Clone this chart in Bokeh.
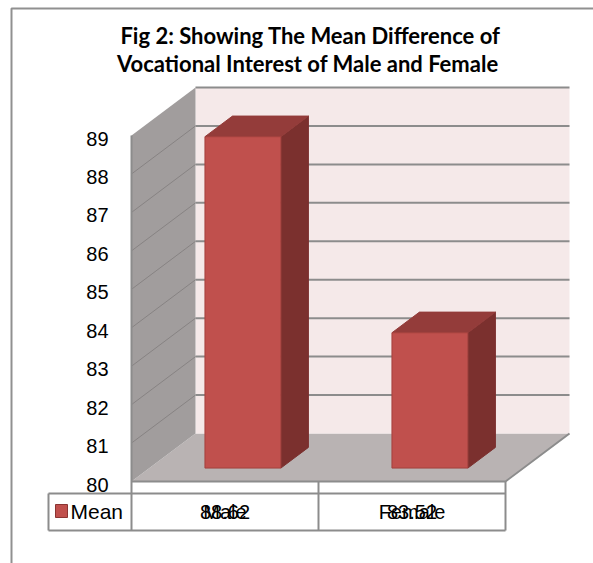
from bokeh.plotting import figure
from bokeh.models import Range1d
from bokeh.core.properties import value
from bokeh.embed import file_html
from bokeh.resources import INLINE

# ---------------- data ----------------
categories = ["Male", "Female"]
means = [88.62, 83.52]
series_name = "Mean"
y_ticks = [80, 81, 82, 83, 84, 85, 86, 87, 88, 89]
title_lines = ["Fig 2: Showing The Mean Difference of",
               "Vocational Interest  of Male and Female"]

# ---------------- layout (pixels / styling) ----------------
W, H = 593, 563
FRONT_X0 = 131      # px of left front edge of the plot box
CAT_PX = 187        # px per category on the front plane
BASE_PX = 481       # px (from top) of the axis minimum on the front plane
UNIT_PX = 38.44     # px per value unit
DEPTH_DX_PX = 64    # 3-D depth offset
DEPTH_DY_PX = 48
BAR_W = 0.406       # bar width in category units
BAR_F0 = 0.28       # depth fraction where bar front face sits
BAR_FD = 0.43       # bar depth fraction

GRAY = "#8c8c8c"
RED_FRONT = "#c0504d"
RED_TOP = "#943c3a"
RED_SIDE = "#7b302e"
RED_EDGE = "#a3403d"

YMIN, YMAX = y_ticks[0], y_ticks[-1]


def X(px):
    return (px - FRONT_X0) / CAT_PX


def Y(py):
    return YMIN + (BASE_PX - py) / UNIT_PX


DX = DEPTH_DX_PX / CAT_PX
DY = DEPTH_DY_PX / UNIT_PX
n = len(categories)

p = figure(width=W, height=H,
           x_range=Range1d(X(0), X(W)), y_range=Range1d(Y(H), Y(0)),
           output_backend="svg", toolbar_location=None,
           x_axis_type=None, y_axis_type=None, min_border=0,
           outline_line_color=None, background_fill_color="white",
           border_fill_color="white")

# outer chart border (extends past right / bottom edge)
p.line([X(11), X(11), X(W + 20)], [Y(H + 20), Y(8), Y(8)], line_color="#909090", line_width=2)

# floor
p.patch([0, n, n + DX, DX], [YMIN, YMIN, YMIN + DY, YMIN + DY],
        fill_color="#b9b3b3", line_color=None)
# back wall
p.quad(left=[DX], right=[n + DX], bottom=[YMIN + DY], top=[YMAX + DY],
       fill_color="#f5e9e9", line_color=None)
# side wall
p.patch([0, 0, DX, DX], [YMIN, YMAX, YMAX + DY, YMIN + DY],
        fill_color="#a19d9d", line_color=None)

# back wall gridlines
p.multi_line([[DX, n + DX] for t in y_ticks[1:]],
             [[t + DY, t + DY] for t in y_ticks[1:]],
             line_color=GRAY, line_width=2)
# side wall gridlines
p.multi_line([[0, DX] for t in y_ticks[1:-1]],
             [[t, t + DY] for t in y_ticks[1:-1]],
             line_color="#878383", line_width=1)

# floor edges
p.line([0, n, n + DX], [YMIN, YMIN, YMIN + DY], line_color=GRAY, line_width=2)

# bars
tx, ty, sx, sy = [], [], [], []
left, right, bottom, top = [], [], [], []
bx, by = BAR_FD * DX, BAR_FD * DY
for i, v in enumerate(means):
    cx = i + 0.5
    x0 = cx - BAR_W / 2 + BAR_F0 * DX
    x1 = cx + BAR_W / 2 + BAR_F0 * DX
    yb = YMIN + BAR_F0 * DY
    yt = v + BAR_F0 * DY
    left.append(x0); right.append(x1); bottom.append(yb); top.append(yt)
    tx.append([x0, x1, x1 + bx, x0 + bx]); ty.append([yt, yt, yt + by, yt + by])
    sx.append([x1, x1 + bx, x1 + bx, x1]); sy.append([yb, yb + by, yt + by, yt])

p.patches(sx, sy, fill_color=RED_SIDE, line_color=RED_SIDE, line_width=1)
p.patches(tx, ty, fill_color=RED_TOP, line_color=RED_TOP, line_width=1)
p.quad(left=left, right=right, bottom=bottom, top=top,
       fill_color=RED_FRONT, line_color=RED_EDGE, line_width=1)

# value axis line (front left edge, continues into the table)
p.line([0, 0], [YMAX, Y(530)], line_color=GRAY, line_width=2)

# y tick labels
p.text(x=[0] * len(y_ticks), y=y_ticks, text=[str(t) for t in y_ticks],
       x_offset=-23, y_offset=3, text_align="right", text_baseline="middle",
       text_font=value("Liberation Sans"), text_font_size="20px", text_color="black")

# data table
p.multi_line(
    [[X(48), n], [X(48), n], [X(48), X(48)], [1, 1], [n, n]],
    [[Y(493), Y(493)], [Y(530), Y(530)], [Y(493), Y(530)], [YMIN, Y(530)], [YMIN, Y(530)]],
    line_color=GRAY, line_width=2)

# legend key + series name
p.quad(left=[X(55)], right=[X(67)], bottom=[Y(517)], top=[Y(504)],
       fill_color=RED_FRONT, line_color="#8b3432", line_width=1)
p.text(x=[X(70)], y=[Y(511)], text=[series_name], text_align="left", text_baseline="middle",
       text_font=value("Liberation Sans"), text_font_size="21px", text_color="black")

# category names and values (overlapping, as in the source)
cat_x = [i + 0.5 for i in range(n)]
p.text(x=cat_x, y=[Y(511)] * n, text=categories, text_align="center", text_baseline="middle",
       text_font=value("Liberation Sans"), text_font_size="20px", text_color="black")
p.text(x=cat_x, y=[Y(511)] * n, text=[f"{v:.2f}" for v in means], text_align="center",
       text_baseline="middle", text_font=value("Liberation Sans"), text_font_size="20px",
       text_color="black")

# title
p.text(x=[X(310), X(310)], y=[Y(35), Y(63)], text=title_lines, text_align="center",
       text_baseline="alphabetic", text_font=value("Lato"), text_font_style="bold",
       text_font_size="22px", text_color="black")

open("out.html", "w").write(file_html(p, INLINE))
